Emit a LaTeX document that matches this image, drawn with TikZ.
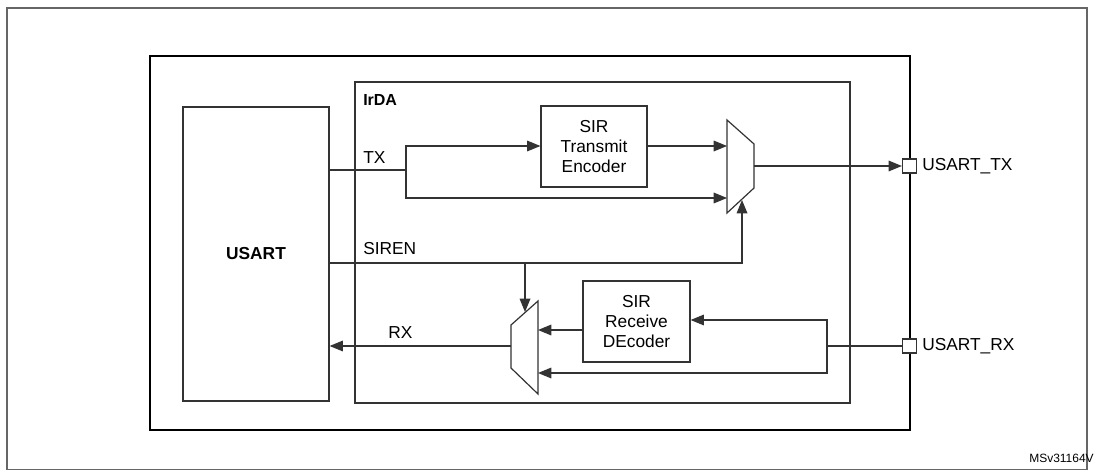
\documentclass[tikz,border=0pt]{standalone}
\usepackage{fontspec}
\setmainfont{Liberation Sans}
\usetikzlibrary{arrows.meta}
\begin{document}
\begin{tikzpicture}[x=0.75pt,y=-0.75pt,
  ln/.style={draw=black!80,line width=0.9pt},
  ar/.style={ln,-{Triangle[length=10pt,width=8pt]}},
  box/.style={draw=black!80,line width=0.9pt,fill=white},
  lbl/.style={font=\fontsize{13}{15}\selectfont,inner sep=0pt},
  pin/.style={draw=black!80,line width=0.9pt,fill=white,minimum size=10.5pt,inner sep=0pt}]
\useasboundingbox (0,0) rectangle (1094,470);
\draw[draw=black!60,line width=0.8pt] (7,8) rectangle (1087,470);
\draw[line width=1.8pt] (150,56) rectangle (910,430);
\draw[ln] (355,82) rectangle (850,403);
\node[box,minimum width=109.5pt,minimum height=220.5pt,inner sep=0pt] (usart) at (256,254) {};
\node[lbl,font=\fontsize{13}{15}\selectfont\bfseries] at (256,254) {USART};
\node[lbl,font=\fontsize{12}{14}\selectfont\bfseries,anchor=west] at (363,100) {IrDA};
\node[box,minimum width=79.5pt,minimum height=60.75pt,align=center,lbl,draw] (enc) at (594,146.5) {SIR\\Transmit\\Encoder};
\node[box,minimum width=80.25pt,minimum height=60.75pt,align=center,lbl,draw] (dec) at (636.5,321.5) {SIR\\Receive\\DEcoder};
% muxes
\draw[box] (727,120) -- (754,144) -- (754,188) -- (727,213) -- cycle;
\coordinate (m1in1) at (727,146); \coordinate (m1in2) at (727,198);
\coordinate (m1sel) at (742,200); \coordinate (m1out) at (754,166);
\draw[box] (538,301) -- (511,325) -- (511,368) -- (538,394) -- cycle;
\coordinate (m2in1) at (538,330); \coordinate (m2in2) at (538,373);
\coordinate (m2sel) at (525,312); \coordinate (m2out) at (511,346);
% pins
\node[pin] (ptx) at (909.5,166) {};
\node[pin] (prx) at (909.5,346) {};
\node[lbl,anchor=west] at (922,166) {USART\_TX};
\node[lbl,anchor=west] at (922,346) {USART\_RX};
% TX path
\coordinate (txs) at (usart.east |- 0,170);
\coordinate (txb) at (406,170);
\draw[ln] (txs) -- (txb);
\draw[ar] (txb) |- (enc.west |- m1in1);
\draw[ar] (txb) |- (m1in2);
\draw[ar] (enc.east |- m1in1) -- (m1in1);
\draw[ar] (m1out) -- (ptx.west);
\node[lbl,anchor=west] at (363,158) {TX};
% SIREN
\coordinate (ss) at (usart.east |- 0,263);
\coordinate (sb) at (525,263);
\draw[ar] (ss) -- (742,263) -- (m1sel);
\draw[ar] (sb) -- (m2sel);
\node[lbl,anchor=west] at (363,249) {SIREN};
% RX path
\coordinate (rxb) at (827,346);
\draw[ln] (prx.west) -- (rxb);
\draw[ar] (rxb) -- (827,320) -- (dec.east |- 0,320);
\draw[ar] (rxb) -- (827,373) -- (m2in2);
\draw[ar] (dec.west |- m2in1) -- (m2in1);
\draw[ar] (m2out) -- (usart.east |- m2out);
\node[lbl,anchor=west] at (388,333) {RX};
\node[lbl,font=\fontsize{9}{11}\selectfont,anchor=east] at (1094,458) {MSv31164V};
\end{tikzpicture}
\end{document}
